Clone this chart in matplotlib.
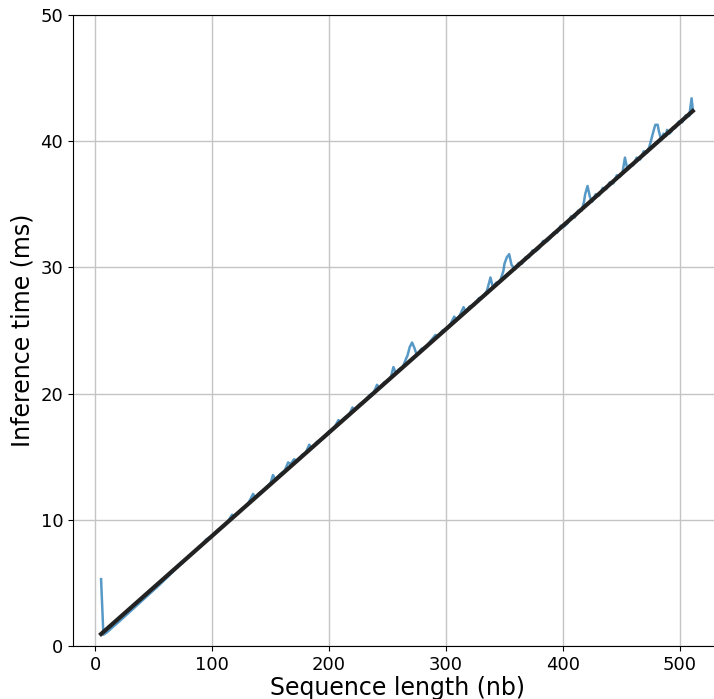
import matplotlib
matplotlib.use('Agg')
import matplotlib.pyplot as plt
import numpy as np

# Measured inference times (ms) against sequence length (nb).
seq_len = [
    5, 7, 10, 15, 20, 25, 30, 35, 40, 45, 50, 55, 60, 65, 70, 75, 80, 85,
    90, 95, 100, 105, 110, 114, 117, 119, 121, 125, 130, 135, 137, 140,
    145, 150, 152, 154, 158, 162, 165, 167, 170, 173, 177, 180, 183, 185,
    190, 195, 200, 204, 208, 210, 214, 217, 220, 222, 226, 230, 235, 238,
    241, 243, 247, 251, 253, 255, 257, 260, 263, 266, 267, 269, 271, 273,
    275, 279, 283, 287, 291, 293, 297, 301, 304, 307, 309, 312, 315, 317,
    320, 324, 328, 332, 335, 338, 340, 343, 346, 349, 350, 352, 354, 356,
    359, 362, 365, 368, 371, 374, 377, 380, 383, 386, 389, 392, 395, 398,
    401, 404, 407, 410, 413, 416, 418, 419, 421, 423, 425, 428, 431, 434,
    437, 440, 443, 446, 449, 451, 453, 455, 457, 460, 463, 466, 469, 472,
    474, 476, 478, 479, 481, 482, 484, 486, 488, 489, 491, 493, 494, 496,
    499, 502, 505, 508, 510, 511]
inference_ms = [
    5.30, 0.90, 1.08, 1.50, 1.90, 2.32, 2.74, 3.15, 3.58, 4.00, 4.42, 4.85,
    5.30, 5.75, 6.20, 6.62, 7.05, 7.52, 7.88, 8.45, 8.68, 9.20, 9.50, 9.95,
    10.40, 10.30, 10.45, 10.85, 11.15, 12.05, 11.75, 12.10, 12.40, 12.92,
    13.55, 13.20, 13.60, 13.90, 14.55, 14.40, 14.80, 14.65, 15.15, 15.30,
    15.95, 15.70, 16.20, 16.48, 17.02, 17.22, 17.90, 17.75, 18.15, 18.28,
    18.90, 18.70, 19.15, 19.40, 19.90, 20.05, 20.70, 20.42, 20.88, 21.05,
    21.35, 22.10, 21.65, 21.95, 22.10, 22.80, 23.00, 23.70, 24.05, 23.60,
    23.05, 23.55, 23.70, 24.20, 24.65, 24.50, 25.00, 25.15, 25.55, 26.10,
    25.85, 26.25, 26.85, 26.45, 26.90, 27.00, 27.55, 27.70, 28.15, 29.20,
    28.45, 28.80, 28.85, 29.70, 30.30, 30.80, 31.05, 30.20, 29.85, 30.35,
    30.30, 30.80, 30.80, 31.35, 31.30, 31.55, 32.10, 32.05, 32.30, 32.75,
    32.75, 33.30, 33.25, 33.50, 34.05, 33.95, 34.50, 34.50, 35.20, 35.80,
    36.45, 35.60, 35.20, 35.80, 35.70, 36.30, 36.20, 36.75, 36.65, 37.30,
    37.20, 37.55, 38.70, 37.80, 38.10, 38.10, 38.70, 38.55, 39.20, 39.10,
    39.60, 40.30, 41.00, 41.30, 41.30, 40.80, 40.10, 40.60, 40.40, 40.90,
    40.60, 40.80, 41.10, 41.05, 41.55, 41.50, 42.05, 42.00, 43.40, 42.55]

# Linear fit.
fit_slope = 0.0819
fit_intercept = 0.54

x_ticks = [0, 100, 200, 300, 400, 500]
y_ticks = [0, 10, 20, 30, 40, 50]

fig = plt.figure(figsize=(7.14, 6.99), dpi=100)
axes = fig.add_axes([73 / 714, 53 / 699, 649 / 714, 631 / 699])

axes.plot(seq_len, inference_ms, color='tab:blue', alpha=0.75, lw=1.8)
fit_x = np.array([seq_len[0], seq_len[-1]])
axes.plot(fit_x, fit_slope * fit_x + fit_intercept, color='#222222', lw=3)

axes.set_xlim(-19, 536)
axes.set_ylim(0, 50)
axes.set_xticks(x_ticks)
axes.set_yticks(y_ticks)
axes.tick_params(labelsize=13)
axes.grid(True, color='#c4c4c4', lw=1)
axes.set_axisbelow(True)
axes.set_xlabel('Sequence length (nb)', fontsize=17, labelpad=2)
axes.set_ylabel('Inference time (ms)', fontsize=17)

plt.savefig('out.png', dpi=100)
